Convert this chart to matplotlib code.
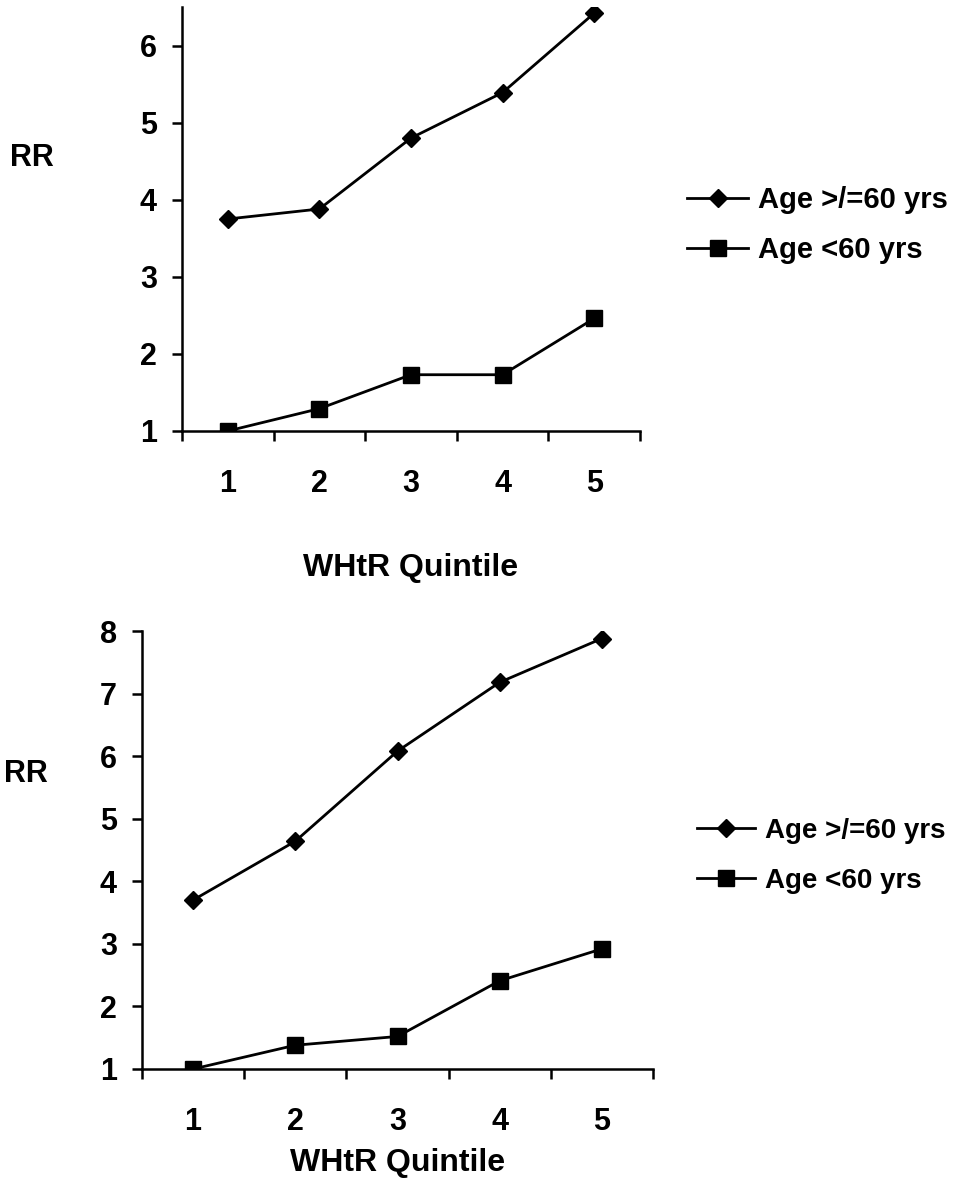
import numpy as np
import matplotlib.pyplot as plt

plt.rcParams['font.family'] = ['Liberation Sans', 'DejaVu Sans']
plt.rcParams['font.weight'] = 'bold'

# data
quintiles = [1, 2, 3, 4, 5]
top_old = [3.75, 3.88, 4.80, 5.39, 6.42]
top_young = [1.00, 1.29, 1.73, 1.73, 2.46]
bot_old = [3.70, 4.64, 6.08, 7.18, 7.88]
bot_young = [1.00, 1.38, 1.52, 2.41, 2.92]
labels = ["Age >/=60 yrs", "Age <60 yrs"]

W, H = 957, 1179
fig = plt.figure(figsize=(W / 100, H / 100), dpi=100)


def px_axes(left, top, right, bottom):
    return fig.add_axes([left / W, 1 - bottom / H, (right - left) / W, (bottom - top) / H])


def draw_panel(ax, old, young, ymax, xlab_pad, leg_pos, leg_size, leg_space, rr_pos):
    ax.plot(quintiles, old, color='black', lw=2, marker='D', ms=9, label=labels[0])
    ax.plot(quintiles, young, color='black', lw=2, marker='s', ms=12, label=labels[1])
    ax.set_xlim(0.5, 5.5)
    ax.set_ylim(1, ymax)
    ax.set_yticks(range(1, int(ymax) + 1))
    # category ticks sit between the quintiles, labels centred on them
    ax.set_xticks(np.arange(0.5, 6, 1))
    ax.set_xticklabels([])
    ax.set_xticks(quintiles, minor=True)
    ax.set_xticklabels([str(q) for q in quintiles], minor=True)
    ax.tick_params(axis='x', which='minor', length=0, pad=27, labelsize=22)
    ax.tick_params(axis='x', which='major', direction='out', length=7, width=1.8)
    ax.tick_params(axis='y', direction='out', length=7, width=1.8, labelsize=22, pad=11)
    for s in ['top', 'right']:
        ax.spines[s].set_visible(False)
    for s in ['left', 'bottom']:
        ax.spines[s].set_linewidth(1.8)
    ax.set_xlabel("WHtR Quintile", fontsize=23, fontweight='bold', labelpad=xlab_pad)
    fig.text(rr_pos[0] / W, 1 - rr_pos[1] / H, "RR", fontsize=22, fontweight='bold',
             ha='left', va='center')
    ax.legend(loc='center left', bbox_to_anchor=leg_pos, bbox_transform=fig.transFigure,
              frameon=False, handlelength=2.1, handletextpad=0.35, borderpad=0,
              borderaxespad=0, labelspacing=leg_space,
              prop={'weight': 'bold', 'size': leg_size})


ax1 = px_axes(182, 7, 640, 431)
draw_panel(ax1, top_old, top_young, 6.5, 39, (687 / W, 1 - 225 / H), 21, 0.76, (10, 158))

ax2 = px_axes(142, 631, 653, 1069)
draw_panel(ax2, bot_old, bot_young, 8, 8, (697 / W, 1 - 856 / H), 20, 0.87, (4, 774))

fig.savefig("out.png", dpi=100)
